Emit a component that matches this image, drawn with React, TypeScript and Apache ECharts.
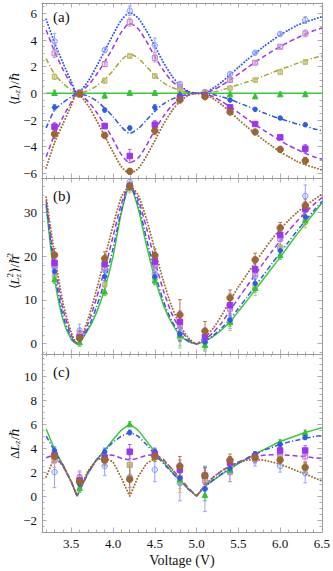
import React, { useEffect, useRef } from 'react';
import * as echarts from 'echarts';

// ---------- data ----------
const V_DATA = [3.3, 3.6, 3.9, 4.2, 4.5, 4.8, 5.1, 5.4, 5.7, 6.0, 6.3];
const V_CURVE = [3.2, 3.3, 3.4, 3.5, 3.57, 3.7, 3.8, 3.9, 4.0, 4.1, 4.2, 4.3, 4.4, 4.5, 4.6, 4.7, 4.8, 4.9, 5.0, 5.1, 5.2, 5.3, 5.4, 5.5, 5.6, 5.7, 5.8, 5.9, 6.0, 6.1, 6.2, 6.3, 6.4, 6.5];

// panel (a) measured <Lz>
const A_T0 = [3.9, 0.1, 3.25, 6.2, 3.6, 0.7, 0.1, 1.45, 3.05, 4.45, 5.5];
const A_T30 = [3.0, 0.05, 2.2, 5.35, 2.65, 0.5, 0.05, 1.0, 2.3, 3.5, 4.5];
const A_T60 = [1.25, 0.0, 0.95, 2.8, 1.3, 0.25, 0.0, 0.4, 1.0, 1.6, 2.35];
const A_T90 = [0.05, 0.05, -0.15, 0.05, 0.05, 0.0, 0.0, -0.05, -0.2, -0.05, -0.05];
const A_T120 = [-1.05, -0.05, -1.25, -2.6, -1.05, -0.15, -0.1, -0.5, -1.2, -1.85, -2.35];
const A_T150 = [-2.5, -0.05, -2.45, -4.7, -2.35, -0.35, -0.15, -1.05, -2.3, -3.3, -4.15];
const A_T180 = [-3.05, -0.05, -3.15, -5.85, -2.8, -0.5, -0.25, -1.4, -2.9, -4.2, -5.05];
const EA_T0 = [0.6, 0.15, 0.15, 0.35, 0.55, 0.15, 0.1, 0.1, 0.1, 0.15, 0.25];
const EA_T30 = [0.3, 0.1, 0.2, 0.3, 0.3, 0.1, 0.1, 0.1, 0.1, 0.15, 0.25];
const EA_T60 = [0.2, 0.1, 0.2, 0.15, 0.15, 0.1, 0.1, 0.1, 0.1, 0.15, 0.15];
const EA_T90 = [0.2, 0.15, 0.2, 0.15, 0.15, 0.15, 0.15, 0.15, 0.2, 0.15, 0.15];
const EA_T120 = [0.2, 0.1, 0.15, 0.15, 0.2, 0.1, 0.1, 0.1, 0.1, 0.1, 0.1];
const EA_T150 = [0.3, 0.1, 0.2, 0.5, 0.3, 0.1, 0.1, 0.1, 0.1, 0.15, 0.3];
const EA_T180 = [0.35, 0.1, 0.2, 0.2, 0.3, 0.1, 0.1, 0.1, 0.1, 0.15, 0.25];

// panel (a) theory curves
const FA_T0 = [5.55, 3.8, 2.3, 0.9, 0.0, 0.9, 2.0, 3.2, 4.4, 5.5, 6.05, 5.65, 4.7, 3.55, 2.35, 1.35, 0.6, 0.15, 0.0, 0.1, 0.4, 0.85, 1.4, 1.95, 2.5, 3.0, 3.5, 3.95, 4.4, 4.75, 5.1, 5.35, 5.55, 5.75];
const FA_T30 = [4.75, 3.15, 1.8, 0.65, 0.0, 0.6, 1.4, 2.35, 3.45, 4.6, 5.25, 4.85, 3.9, 2.75, 1.75, 0.95, 0.45, 0.12, 0.0, 0.06, 0.25, 0.6, 1.0, 1.45, 1.9, 2.35, 2.75, 3.15, 3.5, 3.85, 4.15, 4.45, 4.7, 4.9];
const FA_T60 = [2.6, 1.45, 0.75, 0.25, 0.0, 0.2, 0.55, 1.05, 1.7, 2.5, 2.95, 2.65, 2.0, 1.35, 0.8, 0.45, 0.22, 0.06, 0.0, 0.03, 0.1, 0.25, 0.45, 0.65, 0.85, 1.05, 1.3, 1.55, 1.8, 2.0, 2.25, 2.45, 2.65, 2.8];
const FA_T90 = [0, 0, 0, 0, 0, 0, 0, 0, 0, 0, 0, 0, 0, 0, 0, 0, 0, 0, 0, 0, 0, 0, 0, 0, 0, 0, 0, 0, 0, 0, 0, 0, 0, 0];
const FA_T120 = [-2.6, -1.25, -0.7, -0.25, 0.0, -0.2, -0.55, -1.1, -1.75, -2.5, -3.0, -2.65, -2.0, -1.35, -0.8, -0.45, -0.22, -0.06, 0.0, -0.03, -0.1, -0.25, -0.45, -0.7, -0.95, -1.2, -1.45, -1.7, -1.9, -2.1, -2.3, -2.45, -2.65, -2.8];
const FA_T150 = [-4.75, -3.1, -1.8, -0.65, 0.0, -0.6, -1.4, -2.35, -3.45, -4.6, -5.2, -4.85, -3.9, -2.75, -1.75, -0.95, -0.45, -0.12, 0.0, -0.06, -0.25, -0.6, -1.0, -1.45, -1.9, -2.35, -2.75, -3.15, -3.55, -3.9, -4.2, -4.5, -4.75, -4.95];
const FA_T180 = [-5.6, -3.7, -2.3, -0.9, 0.0, -0.9, -2.0, -3.2, -4.4, -5.5, -6.0, -5.65, -4.7, -3.55, -2.35, -1.35, -0.6, -0.15, 0.0, -0.1, -0.4, -0.85, -1.4, -1.95, -2.5, -3.0, -3.5, -3.95, -4.4, -4.75, -5.1, -5.35, -5.55, -5.75];

// panel (b) measured <Lz^2>
const B_T0 = [17.5, 3.0, 17.0, 37.0, 16.0, 2.5, 0.3, 5.5, 15.5, 22.0, 33.8];
const B_T30 = [18.0, 2.0, 17.5, 36.0, 18.0, 4.0, 1.2, 8.0, 16.0, 24.0, 31.0];
const B_T60 = [15.5, 1.5, 13.5, 35.5, 15.0, 1.5, 0.5, 5.0, 13.0, 22.0, 28.0];
const B_T90 = [14.8, 0.4, 12.0, 35.8, 14.5, 2.0, -0.2, 5.0, 12.8, 20.3, 28.3];
const B_T120 = [16.5, 1.0, 15.4, 36.0, 15.3, 2.2, 0.4, 5.4, 13.8, 21.3, 29.0];
const B_T150 = [18.5, 1.5, 18.2, 36.0, 18.8, 5.0, 1.5, 8.8, 17.0, 24.9, 30.8];
const B_T180 = [20.3, 1.3, 19.5, 36.0, 20.2, 6.6, 2.9, 10.5, 19.2, 26.5, 31.6];
const EB_T0 = [2.0, 1.5, 2.0, 1.0, 2.0, 3.0, 2.0, 2.0, 2.0, 2.0, 2.5];
const EB_T30 = [2.0, 1.5, 2.0, 1.0, 2.0, 3.0, 2.0, 3.5, 2.0, 2.0, 1.5];
const EB_T60 = [1.5, 1.5, 1.5, 1.0, 1.5, 2.5, 2.0, 2.0, 2.0, 1.5, 1.5];
const EB_T90 = [1.0, 1.0, 1.0, 0.8, 1.0, 1.5, 1.0, 1.0, 1.0, 1.0, 1.0];
const EB_T120 = [1.0, 1.0, 1.0, 0.8, 1.0, 1.5, 1.0, 1.0, 1.0, 1.0, 1.0];
const EB_T150 = [1.5, 1.5, 1.5, 0.8, 1.5, 2.5, 2.0, 2.0, 1.5, 1.5, 1.5];
const EB_T180 = [1.5, 1.5, 1.5, 0.8, 1.5, 3.5, 2.2, 1.8, 1.5, 1.2, 1.5];

// panel (b) theory curves
const FB_T90 = [31.5, 15.0, 5.5, 1.0, 0.0, 3.2, 7.0, 12.5, 20.0, 30.0, 36.0, 31.0, 22.5, 15.0, 9.0, 4.8, 2.0, 0.5, 0.0, 0.6, 1.7, 3.2, 5.0, 7.4, 9.8, 12.3, 14.8, 17.3, 19.8, 22.4, 25.0, 27.4, 29.8, 32.2];
const FB_T120 = [32.0, 16.5, 6.5, 1.4, 0.0, 3.6, 8.3, 14.3, 21.8, 30.5, 36.0, 32.0, 24.0, 16.3, 9.9, 5.3, 2.3, 0.6, 0.0, 0.7, 1.9, 3.6, 5.6, 8.1, 10.6, 13.2, 15.7, 18.3, 20.8, 23.3, 25.8, 28.1, 30.4, 32.6];
const FB_T150 = [32.8, 18.5, 8.0, 2.0, 0.0, 4.6, 10.3, 17.0, 24.5, 32.0, 36.0, 33.0, 26.5, 19.0, 12.3, 7.0, 3.4, 1.0, 0.0, 1.0, 2.6, 4.8, 7.6, 10.4, 13.1, 15.8, 18.5, 21.1, 23.5, 25.8, 28.0, 30.0, 31.8, 33.4];
const FB_T180 = [33.5, 20.5, 9.5, 2.6, 0.0, 5.6, 12.2, 19.5, 27.0, 33.5, 36.0, 34.0, 28.5, 21.5, 14.5, 8.6, 4.3, 1.4, 0.0, 1.5, 3.6, 6.5, 9.9, 13.0, 15.8, 18.6, 21.3, 23.9, 26.2, 28.2, 30.0, 31.5, 32.9, 34.2];

// panel (c) measured Delta Lz
const C_T0 = [2.0, 1.2, 2.5, 1.6, 2.2, 1.1, 0.6, 2.0, 3.0, 2.5, 1.9];
const C_T30 = [3.0, 1.5, 3.0, 2.6, 3.4, 1.5, 1.3, 2.0, 3.1, 3.4, 3.3];
const C_T60 = [3.2, 1.1, 3.3, 2.6, 3.3, 1.2, 1.5, 2.5, 3.2, 3.1, 2.3];
const C_T90 = [3.7, 0.7, 3.6, 6.0, 3.6, 1.4, 0.1, 2.2, 3.5, 4.5, 5.3];
const C_T120 = [3.8, 1.0, 3.7, 5.3, 3.7, 1.5, 0.6, 2.3, 3.5, 4.3, 4.9];
const C_T150 = [3.4, 1.3, 3.2, 3.7, 3.5, 2.2, 1.7, 2.8, 3.3, 3.8, 3.8];
const C_T180 = [3.3, 1.2, 3.0, 1.4, 3.3, 2.5, 1.7, 3.0, 3.2, 3.0, 2.4];
const EC_T0 = [1.3, 0.8, 0.8, 0.9, 1.0, 1.5, 1.9, 0.8, 0.5, 0.5, 0.8];
const EC_T30 = [0.6, 0.6, 0.5, 0.9, 0.5, 0.9, 0.8, 0.8, 0.4, 0.4, 0.4];
const EC_T60 = [0.5, 0.6, 0.4, 0.8, 0.4, 0.9, 0.8, 0.6, 0.4, 0.4, 0.4];
const EC_T90 = [0.3, 0.4, 0.3, 0.2, 0.3, 0.5, 0.5, 0.3, 0.2, 0.2, 0.2];
const EC_T120 = [0.3, 0.4, 0.3, 0.2, 0.3, 0.5, 0.5, 0.3, 0.2, 0.2, 0.2];
const EC_T150 = [0.4, 0.5, 0.4, 0.6, 0.4, 0.8, 0.7, 0.5, 0.3, 0.3, 0.4];
const EC_T180 = [0.4, 0.5, 0.4, 1.2, 0.4, 0.8, 0.7, 0.5, 0.3, 0.3, 0.4];

// panel (c) theory curves
const FC_T90 = [5.6, 3.9, 2.6, 1.2, 0.0, 1.9, 3.0, 3.8, 4.7, 5.5, 6.0, 5.5, 4.6, 3.7, 2.85, 2.05, 1.3, 0.6, 0.0, 0.8, 1.3, 1.8, 2.25, 2.7, 3.1, 3.5, 3.85, 4.2, 4.55, 4.8, 5.05, 5.3, 5.5, 5.7];
const FC_T120 = [5.0, 3.75, 2.6, 1.2, 0.0, 1.9, 3.0, 3.8, 4.5, 5.0, 5.3, 5.0, 4.3, 3.5, 2.75, 2.0, 1.3, 0.6, 0.0, 0.8, 1.35, 1.85, 2.35, 2.75, 3.15, 3.5, 3.8, 4.05, 4.3, 4.5, 4.65, 4.8, 4.95, 5.05];
const FC_T150 = [3.2, 3.45, 2.5, 1.2, 0.0, 2.0, 3.0, 3.45, 3.4, 3.15, 3.0, 3.15, 3.4, 3.45, 3.1, 2.3, 1.5, 0.7, 0.0, 0.9, 1.55, 2.1, 2.5, 2.85, 3.1, 3.3, 3.4, 3.45, 3.45, 3.4, 3.35, 3.3, 3.2, 3.15];
const FC_T180 = [1.6, 3.25, 2.55, 1.2, 0.0, 2.1, 3.0, 3.2, 2.85, 1.5, 0.0, 1.6, 2.7, 3.15, 3.0, 2.3, 1.4, 0.6, 0.0, 0.9, 1.6, 2.1, 2.5, 2.8, 3.0, 3.05, 3.0, 2.85, 2.65, 2.4, 2.1, 1.85, 1.55, 1.25];

// ticks
const X_MAJOR = [3.5, 4.0, 4.5, 5.0, 5.5, 6.0, 6.5];
const X_MINOR = [3.2, 3.3, 3.4, 3.6, 3.7, 3.8, 3.9, 4.1, 4.2, 4.3, 4.4, 4.6, 4.7, 4.8, 4.9, 5.1, 5.2, 5.3, 5.4, 5.6, 5.7, 5.8, 5.9, 6.1, 6.2, 6.3, 6.4];
const YA_MAJOR = [-6, -4, -2, 0, 2, 4, 6];
const YA_MINOR = [-5.5, -5, -4.5, -3.5, -3, -2.5, -1.5, -1, -0.5, 0.5, 1, 1.5, 2.5, 3, 3.5, 4.5, 5, 5.5, 6.5];
const YB_MAJOR = [0, 10, 20, 30];
const YB_MINOR = [-2, 2, 4, 6, 8, 12, 14, 16, 18, 22, 24, 26, 28, 32, 34, 36];
const YC_MAJOR = [-2, 0, 2, 4, 6, 8, 10];
const YC_MINOR = [-2.5, -1.5, -1, -0.5, 0.5, 1, 1.5, 2.5, 3, 3.5, 4.5, 5, 5.5, 6.5, 7, 7.5, 8.5, 9, 9.5, 10.5, 11, 11.5];

// ---------- styles ----------
const FONT = "'Liberation Serif', 'DejaVu Serif', 'Times New Roman', serif";
const FRAME = '#9a9a9a';
const X_MIN = 3.15;
const X_MAX = 6.5;
const Y_RANGES = [[-6.35, 6.78], [-2.35, 37.9], [-3.0, 11.85]];
const GRIDS = [
  { left: 42, top: 3, width: 280, height: 175 },
  { left: 42, top: 178, width: 280, height: 176 },
  { left: 42, top: 354, width: 280, height: 178 },
];

const C_BLUE = '#3352f2';
const C_BLUE2 = '#2f5ad8';
const C_PURPLE = '#9a38e2';
const C_OLIVE = '#a6a632';
const C_GREEN = '#3cc83c';
const C_BROWN = '#9c6a33';

const DOT = { type: [0.1, 3.0], cap: 'round', width: 1.9 };
const DASH = { type: [5, 3], cap: 'butt', width: 1.5 };
const DASHDOT = { type: [5, 2.2, 1.2, 2.2], cap: 'butt', width: 1.5 };
const SOLID = { type: 'solid', cap: 'butt', width: 1.5 };

const MARK = {
  t0: { symbol: 'circle', size: 5.5, fill: 'rgba(140,155,255,0.2)', stroke: '#8595ff', err: '#94a3ff' },
  t30: { symbol: 'rect', size: 5, fill: 'rgba(210,150,220,0.35)', stroke: '#c584d0', err: '#cc96d6' },
  t60: { symbol: 'rect', size: 4.5, fill: 'rgba(195,195,110,0.55)', stroke: '#b8b865', err: '#c4c478' },
  t90: { symbol: 'triangle', size: 5.5, fill: '#33c233', stroke: '#33c233', err: '#5acc5a' },
  t120: { symbol: 'circle', size: 4.5, fill: '#2f5ce6', stroke: '#2f5ce6', err: '#5a7aee' },
  t150: { symbol: 'rect', size: 5.5, fill: '#9b35ee', stroke: '#9b35ee', err: '#ad5cf0' },
  t180: { symbol: 'circle', size: 6.5, fill: '#9a6632', stroke: '#9a6632', err: '#aa7c48' },
};

const PANELS = [
  {
    meas: [['t0', A_T0, EA_T0], ['t30', A_T30, EA_T30], ['t60', A_T60, EA_T60], ['t90', A_T90, EA_T90], ['t120', A_T120, EA_T120], ['t150', A_T150, EA_T150], ['t180', A_T180, EA_T180]],
    fits: [[FA_T90, C_GREEN, SOLID], [FA_T60, C_OLIVE, DASHDOT], [FA_T120, C_BLUE2, DASHDOT], [FA_T30, C_PURPLE, DASH], [FA_T150, C_PURPLE, DASH], [FA_T0, C_BLUE, DOT], [FA_T180, C_BROWN, DOT]],
    smooth: 0.25,
  },
  {
    meas: [['t0', B_T0, EB_T0], ['t30', B_T30, EB_T30], ['t60', B_T60, EB_T60], ['t90', B_T90, EB_T90], ['t120', B_T120, EB_T120], ['t150', B_T150, EB_T150], ['t180', B_T180, EB_T180]],
    fits: [[FB_T90, C_GREEN, SOLID], [FB_T120, C_BLUE2, DASHDOT], [FB_T150, C_PURPLE, DASH], [FB_T180, C_BROWN, DOT]],
    smooth: 0.25,
  },
  {
    meas: [['t0', C_T0, EC_T0], ['t30', C_T30, EC_T30], ['t60', C_T60, EC_T60], ['t90', C_T90, EC_T90], ['t120', C_T120, EC_T120], ['t150', C_T150, EC_T150], ['t180', C_T180, EC_T180]],
    fits: [[FC_T90, C_GREEN, SOLID], [FC_T120, C_BLUE2, DASHDOT], [FC_T150, C_PURPLE, DASH], [FC_T180, C_BROWN, DOT]],
    smooth: false,
  },
];

const fmtNum = (v: number) => (v < 0 ? '\u2212' + Math.abs(v) : String(v));

function buildXAxes() {
  const arr: any[] = [];
  for (let g = 0; g < 3; g++) {
    for (const pos of ['bottom', 'top']) {
      for (const major of [true, false]) {
        arr.push({
          type: 'value', gridIndex: g, position: pos, min: X_MIN, max: X_MAX,
          axisLine: { show: major, onZero: false, lineStyle: { color: FRAME, width: 1 } },
          axisTick: { show: true, inside: true, length: major ? 4.5 : 2.5, customValues: major ? X_MAJOR : X_MINOR, lineStyle: { color: FRAME, width: 0.8 } },
          axisLabel: {
            show: g === 2 && pos === 'bottom' && major, customValues: X_MAJOR,
            formatter: (v: number) => v.toFixed(1), fontFamily: FONT, fontSize: 13, color: '#111', margin: 5,
            showMinLabel: true, showMaxLabel: true,
          },
          splitLine: { show: false },
        });
      }
    }
  }
  return arr;
}

function buildYAxes() {
  const majors = [YA_MAJOR, YB_MAJOR, YC_MAJOR];
  const minors = [YA_MINOR, YB_MINOR, YC_MINOR];
  const arr: any[] = [];
  for (let g = 0; g < 3; g++) {
    for (const pos of ['left', 'right']) {
      for (const major of [true, false]) {
        arr.push({
          type: 'value', gridIndex: g, position: pos, min: Y_RANGES[g][0], max: Y_RANGES[g][1],
          axisLine: { show: major, onZero: false, lineStyle: { color: FRAME, width: 1 } },
          axisTick: { show: true, inside: true, length: major ? 4.5 : 2.5, customValues: major ? majors[g] : minors[g], lineStyle: { color: FRAME, width: 0.8 } },
          axisLabel: {
            show: pos === 'left' && major, customValues: majors[g], formatter: fmtNum,
            fontFamily: FONT, fontSize: 13, color: '#111', margin: 5, showMinLabel: true, showMaxLabel: true,
          },
          splitLine: { show: false },
        });
      }
    }
  }
  return arr;
}

function buildSeries() {
  const series: any[] = [];
  PANELS.forEach((p, g) => {
    const ax = { xAxisIndex: 4 * g, yAxisIndex: 4 * g };
    p.fits.forEach(([ys, color, ls]: any) => {
      series.push({
        type: 'line', ...ax, data: V_CURVE.map((v, i) => [v, ys[i]]), showSymbol: false, symbol: 'none',
        smooth: p.smooth, clip: true, silent: true, z: 2,
        lineStyle: { color, width: ls.width, type: ls.type, cap: ls.cap },
      });
    });
    p.meas.forEach(([key, ys, es]: any) => {
      const m = (MARK as any)[key];
      series.push({
        type: 'custom', ...ax, silent: true, z: 3, clip: true,
        data: V_DATA.map((v, i) => [v, ys[i], es[i]]),
        encode: { x: 0, y: 1 },
        renderItem: (params: any, api: any) => {
          const x = api.value(0), y = api.value(1), e = api.value(2);
          const lo = api.coord([x, y - e]);
          const hi = api.coord([x, y + e]);
          const st = { stroke: m.err, lineWidth: 1 };
          return {
            type: 'group',
            children: [
              { type: 'line', shape: { x1: lo[0], y1: lo[1], x2: hi[0], y2: hi[1] }, style: st },
              { type: 'line', shape: { x1: lo[0] - 1.8, y1: lo[1], x2: lo[0] + 1.8, y2: lo[1] }, style: st },
              { type: 'line', shape: { x1: hi[0] - 1.8, y1: hi[1], x2: hi[0] + 1.8, y2: hi[1] }, style: st },
            ],
          };
        },
      });
    });
    p.meas.forEach(([key, ys]: any) => {
      const m = (MARK as any)[key];
      series.push({
        type: 'scatter', ...ax, silent: true, z: 4,
        data: V_DATA.map((v, i) => [v, ys[i]]),
        symbol: m.symbol, symbolSize: m.size,
        itemStyle: { color: m.fill, borderColor: m.stroke, borderWidth: 1, opacity: 1 },
      });
    });
  });
  return series;
}

const txt = (text: string, x: number, y: number, size: number, italic = false) => ({
  type: 'text', x, y,
  style: { text, fontSize: size, fontFamily: FONT, fontStyle: italic ? 'italic' : 'normal', fill: '#111', textAlign: 'left', textVerticalAlign: 'middle' },
});

function buildGraphic() {
  return [
    { type: 'group', x: 14, y: 90, rotation: Math.PI / 2, children: [
      txt('\u27E8', -15, 0, 13), txt('L', -10.5, 0, 13, true), txt('z', -3.5, 3, 9, true), txt('\u27E9/\u210F', 0.5, 0, 13),
    ] },
    { type: 'group', x: 14, y: 268, rotation: Math.PI / 2, children: [
      txt('\u27E8', -21, 0, 13), txt('L', -16.5, 0, 13, true), txt('2', -9.5, -4.5, 9), txt('z', -9.5, 3.5, 9, true),
      txt('\u27E9/\u210F', -4.5, 0, 13), txt('2', 10.5, -4.5, 9),
    ] },
    { type: 'group', x: 14, y: 443, rotation: Math.PI / 2, children: [
      txt('\u0394', -16, 0, 13), txt('L', -8, 0, 13, true), txt('z', -1, 3, 9, true), txt('/\u210F', 3, 0, 13),
    ] },
    { type: 'text', x: 53, y: 17, style: { text: '(a)', fontSize: 15, fontFamily: FONT, fill: '#111', textAlign: 'left', textVerticalAlign: 'middle' } },
    { type: 'text', x: 53, y: 196, style: { text: '(b)', fontSize: 15, fontFamily: FONT, fill: '#111', textAlign: 'left', textVerticalAlign: 'middle' } },
    { type: 'text', x: 53, y: 372, style: { text: '(c)', fontSize: 15, fontFamily: FONT, fill: '#111', textAlign: 'left', textVerticalAlign: 'middle' } },
    { type: 'text', x: 182, y: 560, style: { text: 'Voltage (V)', fontSize: 14, fontFamily: FONT, fill: '#111', textAlign: 'center', textVerticalAlign: 'middle' } },
  ];
}

function buildOption() {
  return {
    animation: false,
    backgroundColor: '#ffffff',
    grid: GRIDS,
    xAxis: buildXAxes(),
    yAxis: buildYAxes(),
    series: buildSeries(),
    graphic: buildGraphic(),
  };
}

export default function App() {
  const ref = useRef<HTMLDivElement>(null);
  useEffect(() => {
    const chart = echarts.init(ref.current as HTMLDivElement, null, { renderer: 'svg' });
    chart.setOption(buildOption() as any);
    return () => chart.dispose();
  }, []);
  return <div ref={ref} style={{ position: 'fixed', left: 0, top: 0, width: 333, height: 571, background: '#fff' }} />;
}
